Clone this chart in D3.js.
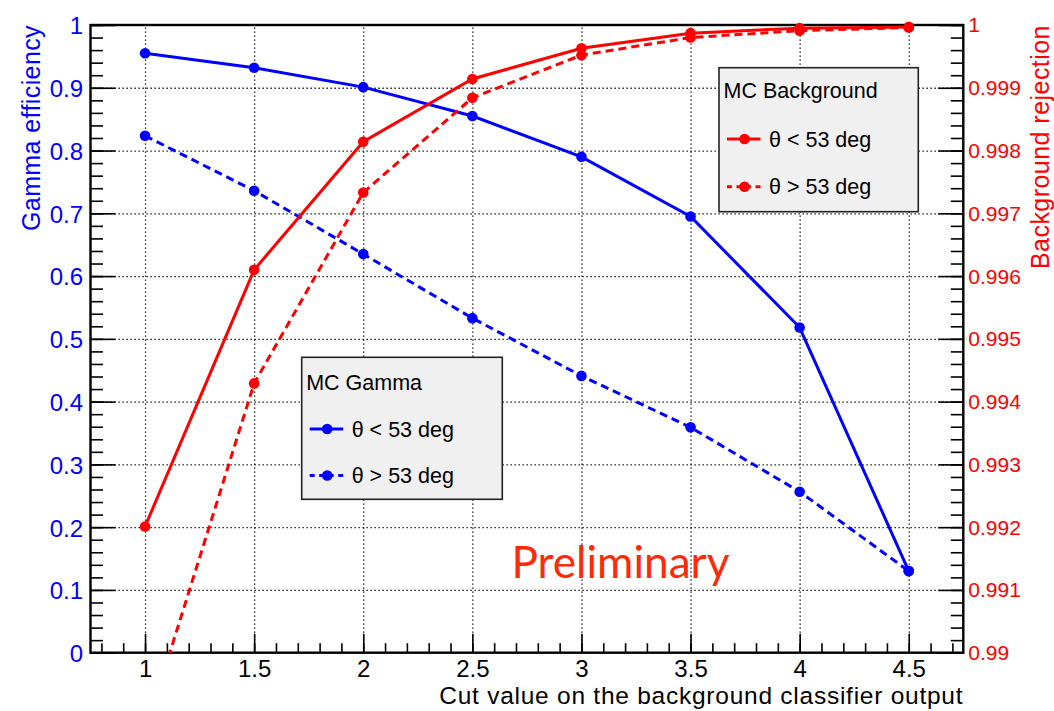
<!DOCTYPE html>
<html>
<head>
<meta charset="utf-8">
<script src="https://cdn.jsdelivr.net/npm/d3@7"></script>
<style>
  html, body { margin: 0; padding: 0; background: #fff; }
  svg { display: block; }
  text { font-family: "Liberation Sans", Arial, Helvetica, sans-serif; }
</style>
</head>
<body>
<svg id="chart" width="1054" height="711"></svg>
<script>
// ---------------- data ----------------
const cutValues   = [1, 1.5, 2, 2.5, 3, 3.5, 4, 4.5];
const gammaLow    = [0.955, 0.932, 0.901, 0.855, 0.790, 0.695, 0.518, 0.130];   // MC Gamma, θ < 53 deg
const gammaHigh   = [0.8235, 0.736, 0.635, 0.533, 0.441, 0.359, 0.2565, 0.130]; // MC Gamma, θ > 53 deg
const bkgLow      = [0.99201, 0.99610, 0.99814, 0.99914, 0.99963, 0.99987, 0.99995, 0.99997]; // MC Background, θ < 53 deg
const bkgHigh     = [0.98874, 0.99429, 0.99733, 0.99884, 0.99952, 0.99980, 0.99991, 0.99996]; // MC Background, θ > 53 deg

const xTickValues = [1, 1.5, 2, 2.5, 3, 3.5, 4, 4.5];
const xTickLabels = ["1", "1.5", "2", "2.5", "3", "3.5", "4", "4.5"];
const leftTickValues = [0, 0.1, 0.2, 0.3, 0.4, 0.5, 0.6, 0.7, 0.8, 0.9, 1];
const leftTickLabels = ["0", "0.1", "0.2", "0.3", "0.4", "0.5", "0.6", "0.7", "0.8", "0.9", "1"];
const rightTickValues = [0.99, 0.991, 0.992, 0.993, 0.994, 0.995, 0.996, 0.997, 0.998, 0.999, 1];
const rightTickLabels = ["0.99", "0.991", "0.992", "0.993", "0.994", "0.995", "0.996", "0.997", "0.998", "0.999", "1"];

const xTitle = "Cut value on the background classifier output";
const yLeftTitle = "Gamma efficiency";
const yRightTitle = "Background rejection";
const gammaLegendTitle = "MC Gamma";
const bkgLegendTitle = "MC Background";
const entryLabels = ["θ < 53 deg", "θ > 53 deg"];
const watermark = "Preliminary";

// ---------------- layout ----------------
const L = 90.5, R = 963.3, T = 25, B = 652.7;
const BLUE = "#0000ff", RED = "#ff0000";

const svg = d3.select("#chart");
const x  = d3.scaleLinear().domain([0.75, 4.75]).range([L, R]);
const yL = d3.scaleLinear().domain([0, 1]).range([B, T]);
const yR = d3.scaleLinear().domain([0.99, 1.0]).range([B, T]);

svg.append("defs").append("clipPath").attr("id", "plotclip")
  .append("rect").attr("x", L).attr("y", T).attr("width", R - L).attr("height", B - T);

// ---------------- grid ----------------
const grid = svg.append("g").attr("class", "grid");
grid.append("g").attr("transform", `translate(0,${B})`)
  .call(d3.axisBottom(x).tickValues(xTickValues).tickSize(-(B - T)).tickFormat(""))
  .call(g => g.select(".domain").remove());
grid.append("g").attr("transform", `translate(${L},0)`)
  .call(d3.axisLeft(yL).tickValues(leftTickValues.filter(v => v > 0 && v < 1)).tickSize(-(R - L)).tickFormat(""))
  .call(g => g.select(".domain").remove());
grid.selectAll("line").attr("stroke", "#000").attr("stroke-width", 1.3).attr("stroke-dasharray", "1.3,2.7");

// ---------------- axes ----------------
function minorVals(lo, hi, step) {
  const n = Math.round((hi - lo) / step);
  return d3.range(n + 1).map(i => +(lo + i * step).toFixed(6));
}
const gxMinor = svg.append("g").attr("transform", `translate(0,${B})`)
  .call(d3.axisBottom(x).tickValues(minorVals(0.8, 4.7, 0.1)).tickSize(-9.5).tickFormat(""));
gxMinor.select(".domain").remove();
const gx = svg.append("g").attr("transform", `translate(0,${B})`)
  .call(d3.axisBottom(x).tickValues(xTickValues).tickSize(-19).tickPadding(6.8)
        .tickFormat((d, i) => xTickLabels[i]));
gx.select(".domain").remove();
gx.selectAll("text").attr("font-size", 24).attr("fill", "#000")
  .style("font-family", '"Liberation Sans", Arial, sans-serif');

const gyMinor = svg.append("g").attr("transform", `translate(${L},0)`)
  .call(d3.axisLeft(yL).tickValues(minorVals(0, 1, 0.02)).tickSize(-12.5).tickFormat(""));
gyMinor.select(".domain").remove();
const gy = svg.append("g").attr("transform", `translate(${L},0)`)
  .call(d3.axisLeft(yL).tickValues(leftTickValues).tickSize(-25).tickPadding(7.5)
        .tickFormat((d, i) => leftTickLabels[i]));
gy.select(".domain").remove();
gy.selectAll("text").attr("font-size", 24).attr("fill", BLUE).attr("dy", "0.37em")
  .style("font-family", '"Liberation Sans", Arial, sans-serif');

const gyrMinor = svg.append("g").attr("transform", `translate(${R},0)`)
  .call(d3.axisRight(yR).tickValues(minorVals(0.99, 1.0, 0.0002)).tickSize(-12.5).tickFormat(""));
gyrMinor.select(".domain").remove();
const gyr = svg.append("g").attr("transform", `translate(${R},0)`)
  .call(d3.axisRight(yR).tickValues(rightTickValues).tickSize(-25).tickPadding(5)
        .tickFormat((d, i) => rightTickLabels[i]));
gyr.select(".domain").remove();
gyr.selectAll("text").attr("font-size", 21).attr("fill", RED).attr("dy", "0.33em")
  .style("font-family", '"Liberation Sans", Arial, sans-serif');

svg.selectAll(".tick line").filter(function () { return !this.closest(".grid"); })
  .attr("stroke", "#000").attr("stroke-width", 1.6);

svg.append("rect").attr("x", L).attr("y", T).attr("width", R - L).attr("height", B - T)
  .attr("fill", "none").attr("stroke", "#000").attr("stroke-width", 2.4);

// ---------------- titles ----------------
function fitSpacing(sel, target) {
  const n = sel.text().length;
  const w = sel.node().getComputedTextLength();
  sel.attr("letter-spacing", ((target - w) / n).toFixed(2));
}
const xt = svg.append("text").attr("x", R).attr("y", 703.5).attr("text-anchor", "end")
  .attr("font-size", 24.5).attr("fill", "#000").text(xTitle);
fitSpacing(xt, 524);
const ylt = svg.append("text").attr("transform", `translate(40,${T}) rotate(-90)`).attr("text-anchor", "end")
  .attr("font-size", 25).attr("fill", BLUE).text(yLeftTitle);
fitSpacing(ylt, 206);
const yrt = svg.append("text").attr("transform", `translate(1049,${T}) rotate(-90)`).attr("text-anchor", "end")
  .attr("font-size", 25).attr("fill", RED).text(yRightTitle);
fitSpacing(yrt, 244);

// ---------------- data series ----------------
const series = [
  { vals: gammaLow,  scale: yL, color: BLUE, dash: null },
  { vals: gammaHigh, scale: yL, color: BLUE, dash: "8,5" },
  { vals: bkgLow,    scale: yR, color: RED,  dash: null },
  { vals: bkgHigh,   scale: yR, color: RED,  dash: "8,5" }
];
const dataG = svg.append("g");
series.forEach(s => {
  const pts = cutValues.map((c, i) => [c, s.vals[i]]);
  const line = d3.line().x(d => x(d[0])).y(d => s.scale(d[1]));
  dataG.append("path").datum(pts).attr("d", line)
    .attr("fill", "none").attr("stroke", s.color).attr("stroke-width", 3)
    .attr("stroke-dasharray", s.dash).attr("clip-path", "url(#plotclip)");
  const dom = s.scale.domain();
  dataG.selectAll(null).data(pts.filter(d => d[1] >= dom[0] && d[1] <= dom[1])).enter()
    .append("circle").attr("cx", d => x(d[0])).attr("cy", d => s.scale(d[1]))
    .attr("r", 5.3).attr("fill", s.color);
});

// ---------------- legends ----------------
function legend(bx, by, bw, bh, title, color, titleY, rowY) {
  const g = svg.append("g");
  g.append("rect").attr("x", bx).attr("y", by).attr("width", bw).attr("height", bh)
    .attr("fill", "#f0f0f0").attr("stroke", "#222").attr("stroke-width", 1.6);
  g.append("text").attr("x", bx + 4.5).attr("y", titleY).attr("font-size", 21.5)
    .attr("fill", "#000").text(title);
  [null, "8,5"].forEach((dash, i) => {
    const cy = rowY[i];
    g.append("line").attr("x1", bx + 8).attr("x2", bx + 41.5).attr("y1", cy).attr("y2", cy)
      .attr("stroke", color).attr("stroke-width", 3)
      .attr("stroke-dasharray", dash ? "5,4.5" : null);
    g.append("circle").attr("cx", bx + 25.5).attr("cy", cy).attr("r", 5.3).attr("fill", color);
    g.append("text").attr("x", bx + 50).attr("y", cy + 7.5).attr("font-size", 21.5)
      .attr("fill", "#000").text(entryLabels[i]);
  });
}
legend(301.7, 357.3, 200.6, 142, gammaLegendTitle, BLUE, 390, [429, 475.5]);
legend(719, 67.7, 199.3, 144, bkgLegendTitle, RED, 98.3, [139, 186.7]);

// ---------------- watermark ----------------
const wm = svg.append("text").attr("x", 511.5).attr("y", 578.3)
  .attr("font-size", 46).attr("fill", "#ff2a0a")
  .style("font-family", 'Lato, "Open Sans", sans-serif').text(watermark);
const w = wm.node().getComputedTextLength();
wm.attr("font-size", 46 * 218 / w);
</script>
</body>
</html>
